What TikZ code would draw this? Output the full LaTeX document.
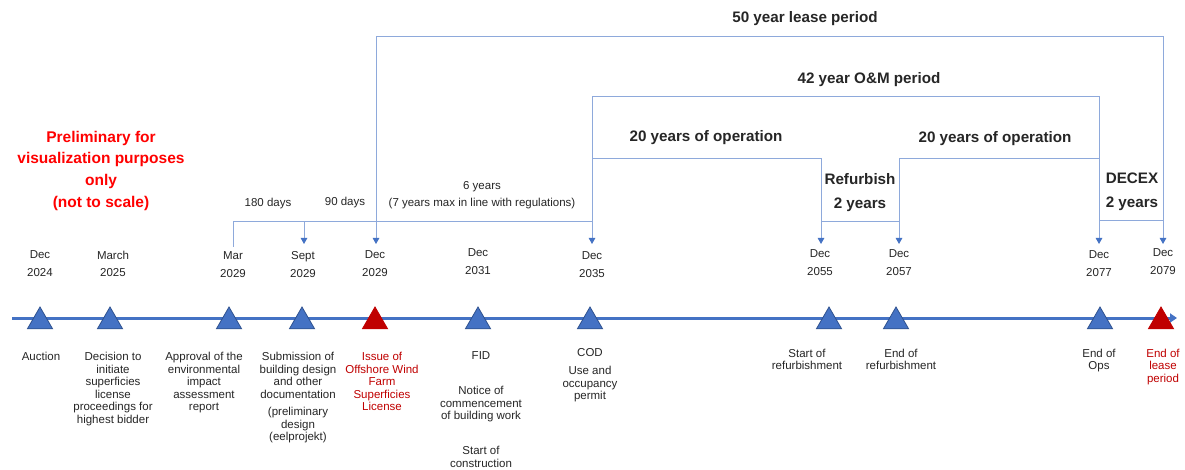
\documentclass[tikz,border=0pt]{standalone}
\usepackage{fontspec}
\setmainfont{Liberation Sans}
\usetikzlibrary{arrows.meta,shapes.geometric}
\definecolor{mblue}{HTML}{4472C4}
\definecolor{dblue}{HTML}{2F528F}
\definecolor{lblue}{HTML}{8EA9DB}
\definecolor{dred}{HTML}{C00000}
\definecolor{bred}{HTML}{FF0000}
\definecolor{txt}{HTML}{262626}
\tikzset{
  bt/.tip={Triangle[width=6.5pt,length=6pt,color=mblue]},
  br/.style={draw=lblue,line width=1pt},
  timeline/.style={draw=mblue,line width=3pt,-{Triangle[width=9pt,length=7pt]}},
  tri/.style={regular polygon,regular polygon sides=3,minimum size=29pt,inner sep=0pt,fill=mblue,draw=dblue,line width=0.8pt},
  rtri/.style={tri,fill=dred,draw=dred},
  small/.style={font=\fontsize{11.5}{12.5}\selectfont,text=txt,align=center,inner sep=0pt},
  lbl/.style={small,anchor=north},
  datelbl/.style={font=\fontsize{11.5}{17.5}\selectfont,text=txt,align=center,inner sep=0pt,anchor=north},
  hdr/.style={font=\fontsize{15.2}{24}\selectfont\bfseries,text=txt,align=center,inner sep=0pt},
  prelim/.style={font=\fontsize{15.5}{21.7}\selectfont\bfseries,text=bred,align=center,inner sep=0pt,anchor=north}
}
\begin{document}
\begin{tikzpicture}[x=1pt,y=-1pt]
\useasboundingbox[fill=white] (0,0) rectangle (1185,470);

% ---------- coordinates of brackets ----------
\coordinate (L50a) at (376,37);
\coordinate (L50b) at (1163,37);
\coordinate (L42a) at (592,97);
\coordinate (L42b) at (1099,97);
\coordinate (j20l) at (592,159);
\coordinate (L20a) at (821,159);
\coordinate (j20r) at (1099,159);
\coordinate (L20b) at (899,159);
\coordinate (t2029) at (376,244);
\coordinate (t2035) at (592,244);
\coordinate (t2055) at (821,244);
\coordinate (t2057) at (899,244);
\coordinate (t2077) at (1099,244);
\coordinate (t2079) at (1163,244);
\coordinate (tsept) at (304,244);
\coordinate (tmar) at (233,247);
\coordinate (b180) at (233,222);
\coordinate (bsept) at (304,222);
\coordinate (b90) at (376,222);
\coordinate (b6y) at (592,222);
\coordinate (rf1) at (821,222);
\coordinate (rf2) at (899,222);
\coordinate (dc1) at (1099,221);
\coordinate (dc2) at (1163,221);

% ---------- bracket lines ----------
\draw[br,bt-bt] (t2029) -- (L50a) -- (L50b) -- (t2079);
\draw[br,bt-bt] (t2035) -- (L42a) -- (L42b) -- (t2077);
\draw[br,-bt] (j20l) -- (L20a) -- (t2055);
\draw[br,-bt] (j20r) -- (L20b) -- (t2057);
\draw[br] (rf1) -- (rf2);
\draw[br] (dc1) -- (dc2);
\draw[br] (b90) -- (b6y);
\draw[br] (tmar) -- (b180) -- (b90);
\draw[br,-bt] (bsept) -- (tsept);

% ---------- bracket labels ----------
\node[hdr,anchor=base] (h50) at (805,23) {50 year lease period};
\node[hdr,anchor=base] (h42) at (869,84) {42 year O\&M period};
\node[hdr,anchor=base] (h20a) at (706,142) {20 years of operation};
\node[hdr,anchor=base] (h20b) at (995,143) {20 years of operation};
\node[hdr,anchor=north] (href) at (860,173) {Refurbish\\2 years};
\node[hdr,anchor=north] (hdec) at (1132,173) {DECEX\\2 years};
\node[small,anchor=base] (d180) at (268,207) {180 days};
\node[small,anchor=base] (d90) at (345,206) {90 days};
\node[small,anchor=north,font=\fontsize{11.5}{17}\selectfont] (d6) at (482,181.5) {6 years\\(7 years max in line with regulations)};

% ---------- preliminary note ----------
\node[prelim] (pre) at (101,130.8) {Preliminary for\\visualization purposes\\only\\(not to scale)};

% ---------- dates ----------
\node[datelbl] (dt1) at (40,250.5) {Dec\\2024};
\node[datelbl] (dt2) at (113,250.5) {March\\2025};
\node[datelbl] (dt3) at (233,251.5) {Mar\\2029};
\node[datelbl] (dt4) at (303,251.5) {Sept\\2029};
\node[datelbl] (dt5) at (375,250.5) {Dec\\2029};
\node[datelbl] (dt6) at (478,248.5) {Dec\\2031};
\node[datelbl] (dt7) at (592,251.5) {Dec\\2035};
\node[datelbl] (dt8) at (820,249.5) {Dec\\2055};
\node[datelbl] (dt9) at (899,249.5) {Dec\\2057};
\node[datelbl] (dt10) at (1099,250.5) {Dec\\2077};
\node[datelbl] (dt11) at (1163,248.5) {Dec\\2079};

% ---------- timeline ----------
\coordinate (tl0) at (12,318);
\coordinate (tl1) at (1177,318);
\draw[timeline] (tl0) -- (tl1);

\node[tri] (m1) at (40,321.5) {};
\node[tri] (m2) at (110,321.5) {};
\node[tri] (m3) at (229,321.5) {};
\node[tri] (m4) at (302,321.5) {};
\node[rtri] (m5) at (375,321.5) {};
\node[tri] (m6) at (478,321.5) {};
\node[tri] (m7) at (590,321.5) {};
\node[tri] (m8) at (829,321.5) {};
\node[tri] (m9) at (896,321.5) {};
\node[tri] (m10) at (1100,321.5) {};
\node[rtri] (m11) at (1161,321.5) {};

% ---------- event labels ----------
\node[lbl] (e1) at (41,352.2) {Auction};
\node[lbl] (e2) at (113,352.2) {Decision to\\initiate\\superficies\\license\\proceedings for\\highest bidder};
\node[lbl] (e3) at (204,352.2) {Approval of the\\environmental\\impact\\assessment\\report};
\node[lbl] (e4) at (298,352.2) {Submission of\\building design\\and other\\documentation\\[5pt](preliminary\\design\\(eelprojekt)};
\node[lbl,text=dred] (e5) at (382,352.2) {Issue of\\Offshore Wind\\Farm\\Superficies\\License};
\node[lbl] (e6) at (481,351.5) {FID\\[22.5pt]Notice of\\commencement\\of building work\\[22.5pt]Start of\\construction};
\node[lbl] (e7) at (590,348.5) {COD\\[5.5pt]Use and\\occupancy\\permit};
\node[lbl] (e8) at (807,348.5) {Start of\\refurbishment};
\node[lbl] (e9) at (901,348.5) {End of\\refurbishment};
\node[lbl] (e10) at (1099,348.5) {End of\\Ops};
\node[lbl,text=dred] (e11) at (1163,348.5) {End of\\lease\\period};
\end{tikzpicture}
\end{document}
